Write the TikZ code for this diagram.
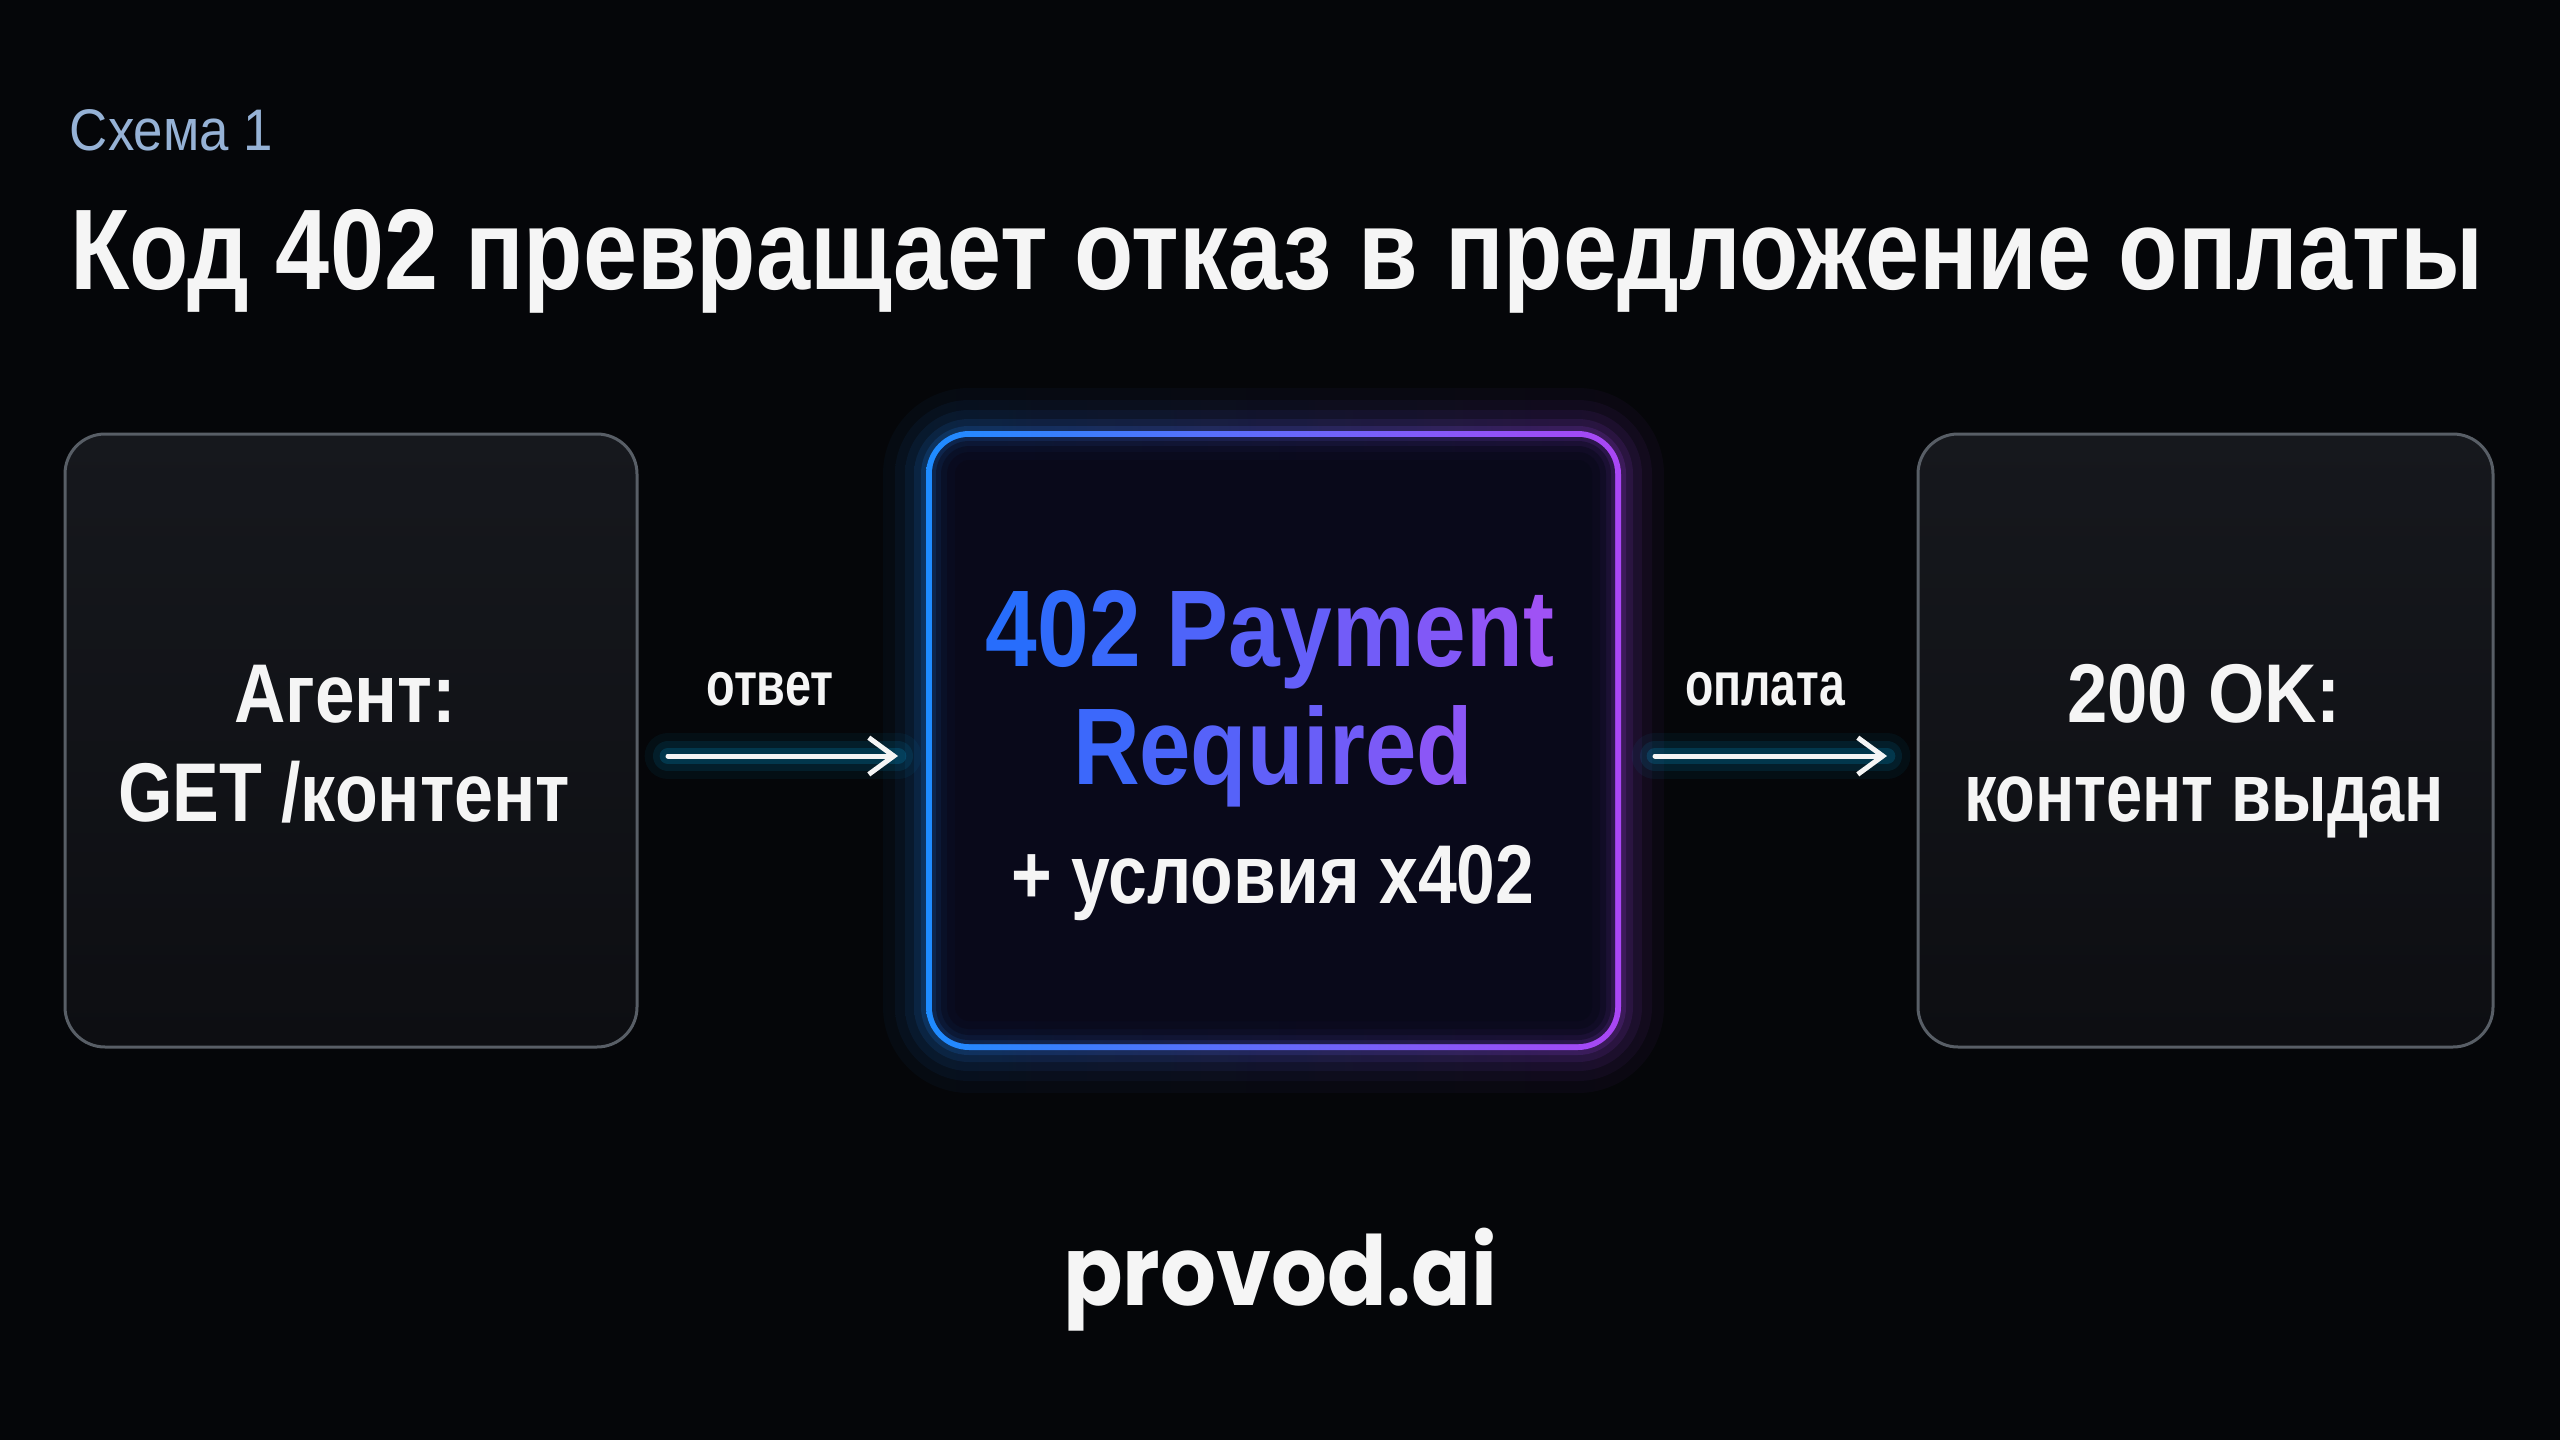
\documentclass[tikz,border=0pt]{standalone}
\usepackage{fontspec}
\setmainfont{Liberation Sans}
\newfontfamily\poppins{Poppins}
\usetikzlibrary{arrows.meta}
\definecolor{bg}{RGB}{5,6,9}
\definecolor{boxfill}{RGB}{13,14,18}
\definecolor{boxfilltop}{RGB}{22,24,29}
\definecolor{boxline}{RGB}{88,94,102}
\definecolor{midfill}{RGB}{9,9,26}
\definecolor{gB}{RGB}{35,110,252}
\definecolor{gP}{RGB}{165,80,245}
\definecolor{bordB}{RGB}{30,140,255}
\definecolor{bordP}{RGB}{170,70,245}
\definecolor{kicker}{RGB}{150,178,214}
\definecolor{glowc}{RGB}{0,190,255}
\definecolor{txt}{RGB}{245,245,245}
\newcommand\gch[2]{\textcolor{gP!#1!gB}{#2}}
\newcommand\fitw[2]{\resizebox{\dimexpr #1pt*3/10\relax}{\height}{#2}}
\begin{document}
\begin{tikzpicture}[x=0.3pt,y=-0.3pt,
  every node/.style={inner sep=0pt, outer sep=0pt, text=txt},
  darkbox/.style={minimum height=183.9pt, rounded corners=12pt, draw=boxline,
    line width=0.9pt, top color=boxfilltop, bottom color=boxfill},
  bigtxt/.style={anchor=base, font=\fontsize{25pt}{30pt}\selectfont\bfseries},
  paytxt/.style={anchor=base, font=\fontsize{32.7pt}{38pt}\selectfont\bfseries},
  lbltxt/.style={anchor=base, font=\fontsize{18.5pt}{22pt}\selectfont\bfseries},
  flow/.style={line width=1.5pt, draw=txt, line cap=round,
    -{Straight Barb[length=7.5pt,width=11pt,line width=1.5pt]}},
  flowglow/.style={draw=glowc, line cap=round},
]
\fill[bg] (0,0) rectangle (2560,1440);
\useasboundingbox (0,0) rectangle (2560,1440);

% kicker and title
\node[anchor=base west, text=kicker, font=\fontsize{17.6pt}{21pt}\selectfont] (kick) at (70,150) {\fitw{203}{Схема 1}};
\node[anchor=base west, font=\fontsize{34.4pt}{40pt}\selectfont\bfseries] (title) at (70,289)
  {\fitw{2413}{Код 402 превращает отказ в предложение оплаты}};

% boxes
\node[darkbox, minimum width=171.6pt] (agent) at (351,740.5) {};
\node[minimum width=206.7pt, minimum height=183.9pt] (pay) at (1273.5,740.5) {};
\node[darkbox, minimum width=172.5pt] (ok) at (2205.5,740.5) {};

% middle box: outer glow
\foreach \k/\o in {46/0.04, 34/0.05, 24/0.07, 15/0.10, 8/0.15} {
  \shade[left color=bordB, right color=bordP, fill opacity=\o, rounded corners=12pt+\k*0.3pt]
    ([shift={(-\k,-\k)}]pay.north west) rectangle ([shift={(\k,\k)}]pay.south east);
}
% border
\shade[left color=bordB, right color=bordP, rounded corners=13pt]
  ([shift={(-3,-3)}]pay.north west) rectangle ([shift={(3,3)}]pay.south east);
\fill[midfill, rounded corners=11pt]
  ([shift={(3,3)}]pay.north west) rectangle ([shift={(-3,-3)}]pay.south east);
% inner glow
\shade[left color=bordB, right color=bordP, fill opacity=0.22, rounded corners=11pt]
  ([shift={(3,3)}]pay.north west) rectangle ([shift={(-3,-3)}]pay.south east);
\foreach \k/\o in {7/0.45, 12/0.5, 18/0.6, 26/1} {
  \fill[midfill, fill opacity=\o, rounded corners=12pt-\k*0.3pt]
    ([shift={(\k,\k)}]pay.north west) rectangle ([shift={(-\k,-\k)}]pay.south east);
}

% box texts
\node[bigtxt] (agent1) at (345,722) {\fitw{222}{Агент:}};
\node[bigtxt] (agent2) at (344,821) {\fitw{452}{GET /контент}};

\node[paytxt] (pay1) at (1270,666) {\fitw{568}{\gch{3}{4}\gch{10}{0}\gch{17}{2} \gch{33}{P}\gch{42}{a}\gch{50}{y}\gch{61}{m}\gch{72}{e}\gch{83}{n}\gch{95}{t}}};
\node[paytxt] (pay2) at (1273,784) {\fitw{400}{\gch{19}{R}\gch{29}{e}\gch{39}{q}\gch{48}{u}\gch{54}{i}\gch{59}{r}\gch{68}{e}\gch{80}{d}}};
\node[bigtxt] (pay3) at (1273,903) {\fitw{523}{+ условия x402}};

\node[bigtxt] (ok1) at (2204,722) {\fitw{274}{200 OK:}};
\node[bigtxt] (ok2) at (2204,821) {\fitw{480}{контент выдан}};

% arrows with glow
\foreach \w/\o in {14pt/0.05, 9pt/0.09, 5pt/0.16} {
  \draw[flowglow, line width=\w, opacity=\o, shorten <=9.3pt, shorten >=9.3pt]
    ([yshift=-4.65pt]agent.east) -- ([yshift=-4.65pt]pay.west);
  \draw[flowglow, line width=\w, opacity=\o, shorten <=11.1pt, shorten >=9.3pt]
    ([yshift=-4.65pt]pay.east) -- ([yshift=-4.65pt]ok.west);
}
\draw[flow, shorten <=9.3pt, shorten >=9.3pt] ([yshift=-4.65pt]agent.east) -- ([yshift=-4.65pt]pay.west);
\draw[flow, shorten <=11.1pt, shorten >=9.3pt] ([yshift=-4.65pt]pay.east) -- ([yshift=-4.65pt]ok.west);

\node[lbltxt] (l1) at (770,705) {\fitw{127}{ответ}};
\node[lbltxt] (l2) at (1765,705) {\fitw{160}{оплата}};

% footer
\node[anchor=base, font=\poppins\fontsize{29pt}{34pt}\selectfont\bfseries] (brand) at (1280,1305) {\fitw{434}{provod.ai}};
\end{tikzpicture}
\end{document}
